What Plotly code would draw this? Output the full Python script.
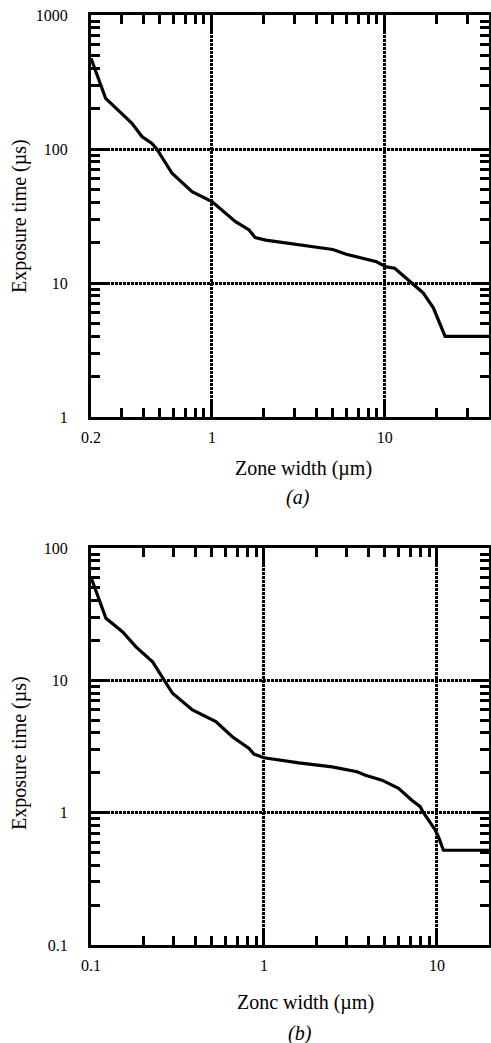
import math
import plotly.graph_objects as go

# ---- data ----
a_zone = [0.2, 0.243, 0.344, 0.394, 0.45, 0.48, 0.588, 0.768, 1.0, 1.37, 1.64, 1.78, 2.05,
          5.0, 5.98, 8.95, 10.2, 11.4, 14.3, 16.7, 19.1, 22.3, 40.0]
a_time = [475, 239, 156, 124, 110, 100, 65.9, 48, 40.5, 28.7, 24.9, 21.8, 20.9,
          17.8, 16.4, 14.4, 13.2, 12.9, 10.0, 8.4, 6.5, 4.0, 4.0]

b_zone = [0.1, 0.122, 0.152, 0.182, 0.227, 0.266, 0.296, 0.386, 0.527, 0.656, 0.82, 0.875,
          1.0, 1.59, 2.48, 3.45, 3.86, 4.81, 6.0, 7.16, 8.0, 8.36, 9.77, 10.2, 10.9, 20.0]
b_time = [60, 29.4, 23.3, 17.9, 13.8, 10.0, 7.98, 5.97, 4.87, 3.75, 3.06, 2.77,
          2.6, 2.38, 2.22, 2.04, 1.92, 1.76, 1.53, 1.24, 1.11, 1.0, 0.74, 0.658, 0.52, 0.52]

a_xticks = [0.2, 1, 10]
a_xticklabels = ["0.2", "1", "10"]
a_yticks = [1, 10, 100, 1000]
a_yticklabels = ["1", "10", "100", "1000"]
b_xticks = [0.1, 1, 10]
b_xticklabels = ["0.1", "1", "10"]
b_yticks = [0.1, 1, 10, 100]
b_yticklabels = ["0.1", "1", "10", "100"]

a_xminor = [0.3, 0.4, 0.5, 0.6, 0.7, 0.8, 0.9, 2, 3, 4, 5, 6, 7, 8, 9, 20, 30]
a_yminor = [m * d for d in (1, 10, 100) for m in range(2, 10)]
b_xminor = [m * d for d in (0.1, 1) for m in range(2, 10)]
b_yminor = [m * d for d in (0.1, 1, 10) for m in range(2, 10)]

titles = {
    "ya": "Exposure time (µs)",
    "xa": "Zone width (µm)",
    "yb": "Exposure time (µs)",
    "xb": "Zonc width (µm)",
}

W, H = 491, 1043
SERIF = "Liberation Serif"


def px_x(p):
    return p / W


def px_y(p):
    return 1 - p / H


fig = go.Figure()
fig.add_trace(go.Scatter(x=a_zone, y=a_time, mode="lines",
                         line=dict(color="black", width=3.2), xaxis="x", yaxis="y",
                         showlegend=False, hoverinfo="skip"))
fig.add_trace(go.Scatter(x=b_zone, y=b_time, mode="lines",
                         line=dict(color="black", width=3.2), xaxis="x2", yaxis="y2",
                         showlegend=False, hoverinfo="skip"))


def axis_style(tickvals, ticktext, minor_vals, rng, domain, anchor, standoff):
    return dict(
        type="log", range=rng, domain=domain, anchor=anchor, automargin=False,
        tickmode="array", tickvals=tickvals, ticktext=ticktext,
        ticks="inside", ticklen=17, tickwidth=2.5, tickcolor="black",
        minor=dict(tickmode="array", tickvals=minor_vals, ticks="inside",
                   ticklen=9, tickwidth=2.5, tickcolor="black", showgrid=False),
        showline=True, linewidth=3, linecolor="black", mirror="allticks",
        showgrid=True, gridcolor="black", griddash="2.5px,1.5px", gridwidth=2.5,
        zeroline=False,
        tickfont=dict(family=SERIF, size=16, color="black"),
        ticklabelstandoff=standoff,
    )


fig.update_layout(
    width=W, height=H, autosize=False,
    margin=dict(l=0, r=0, t=0, b=0, autoexpand=False),
    paper_bgcolor="white", plot_bgcolor="white",
    font=dict(family=SERIF, color="black"),
    xaxis=axis_style(a_xticks, a_xticklabels, a_xminor,
                     [math.log10(0.2), math.log10(40)],
                     [px_x(91), px_x(489)], "y", 4),
    yaxis=axis_style(a_yticks, a_yticklabels, a_yminor,
                     [0, 3], [px_y(417), px_y(15)], "x", 17),
    xaxis2=axis_style(b_xticks, b_xticklabels, b_xminor,
                      [-1, math.log10(20)],
                      [px_x(91), px_x(489)], "y2", 4),
    yaxis2=axis_style(b_yticks, b_yticklabels, b_yminor,
                      [-1, 2], [px_y(945), px_y(548)], "x2", 17),
)

ann = []
ann.append(dict(text=titles["ya"], x=px_x(19), y=px_y(216), textangle=-90))
ann.append(dict(text=titles["xa"], x=px_x(303), y=px_y(468)))
ann.append(dict(text="<i>(a)</i>", x=px_x(298), y=px_y(497)))
ann.append(dict(text=titles["yb"], x=px_x(19), y=px_y(753), textangle=-90))
ann.append(dict(text=titles["xb"], x=px_x(305), y=px_y(1002)))
ann.append(dict(text="<i>(b)</i>", x=px_x(300), y=px_y(1033)))
for a in ann:
    a.update(xref="paper", yref="paper", showarrow=False,
             xanchor="center", yanchor="middle",
             font=dict(family=SERIF, size=20, color="black"))
fig.update_layout(annotations=ann)

post = ("document.body.style.margin='0';document.body.style.padding='0';"
        "document.body.style.overflow='hidden';"
        "document.documentElement.style.overflow='hidden';")

fig.write_html("out.html", config={"displayModeBar": False, "responsive": False},
               post_script=post)
